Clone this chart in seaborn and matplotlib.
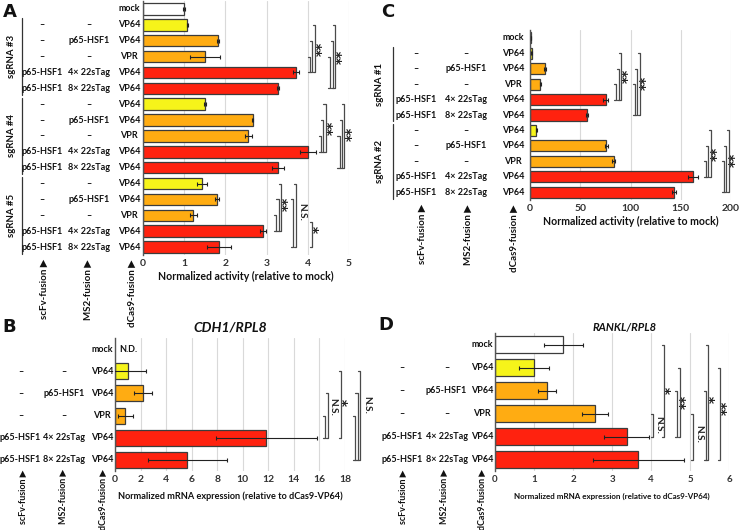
import numpy as np
import pandas as pd
import matplotlib
matplotlib.use('Agg')
import matplotlib.pyplot as plt
import seaborn as sns
from matplotlib.transforms import blended_transform_factory, ScaledTranslation
from matplotlib.lines import Line2D

# ---------------- data ----------------
row_scfv = ['–', '–', '–', 'p65-HSF1', 'p65-HSF1']
row_ms2 = ['–', 'p65-HSF1', '–', '4× 22sTag', '8× 22sTag']
row_dcas9 = ['VP64', 'VP64', 'VPR', 'VP64', 'VP64']
row_kind = ['VP64', 'mid', 'mid', 'Tag', 'Tag']

# Panel A (normalized activity, relative to mock)
a_groups = ['sgRNA #3', 'sgRNA #4', 'sgRNA #5']
a_mock = 1.00
a_mock_err = 0.03
a_vals_3 = [1.08, 1.82, 1.51, 3.72, 3.27]
a_errs_3 = [0.02, 0.03, 0.36, 0.07, 0.02]
a_vals_4 = [1.50, 2.66, 2.56, 4.00, 3.28]
a_errs_4 = [0.03, 0.02, 0.08, 0.19, 0.14]
a_vals_5 = [1.43, 1.79, 1.22, 2.92, 1.84]
a_errs_5 = [0.12, 0.05, 0.08, 0.07, 0.29]
a_ticks = [0, 1, 2, 3, 4, 5]

# Panel C
c_groups = ['sgRNA #1', 'sgRNA #2']
c_mock = 1.0
c_mock_err = 0.3
c_vals_1 = [1.5, 14.6, 10.3, 75.5, 56.6]
c_errs_1 = [0.3, 1.0, 0.5, 2.5, 1.0]
c_vals_2 = [6.3, 76.0, 83.4, 162.6, 143.4]
c_errs_2 = [0.5, 1.5, 1.5, 5.0, 2.0]
c_ticks = [0, 50, 100, 150, 200]

# Panel B (CDH1/RPL8)
b_mock = np.nan   # N.D.
b_mock_err = np.nan
b_vals = [1.04, 2.19, 0.80, 11.84, 5.65]
b_errs = [1.40, 0.68, 0.60, 3.97, 3.10]
b_ticks = [0, 2, 4, 6, 8, 10, 12, 14, 16, 18]

# Panel D (RANKL/RPL8)
d_mock = 1.75
d_mock_err = 0.50
d_vals = [1.00, 1.33, 2.57, 3.38, 3.67]
d_errs = [0.39, 0.24, 0.33, 0.58, 1.17]
d_ticks = [0, 1, 2, 3, 4, 5, 6]

PAL = {'mock': '#FFFFFF', 'VP64': '#F6F41A', 'mid': '#FFAC12', 'Tag': '#FF220F'}

# ---------------- setup ----------------
sns.set_theme(style='white')
plt.rcParams['font.family'] = ['Lato', 'DejaVu Sans']
LFS = 6.5

W, H = 741, 530
fig = plt.figure(figsize=(7.41, 5.30), dpi=100)


def add_ax(left, top, right, bottom):
    return fig.add_axes([left / W, 1 - bottom / H, (right - left) / W, (bottom - top) / H])


def build_df(mock, mock_err, vals_list, errs_list):
    recs = [dict(scfv='', ms2='', dcas9='mock', kind='mock', val=mock, err=mock_err)]
    for vals, errs in zip(vals_list, errs_list):
        for i in range(5):
            recs.append(dict(scfv=row_scfv[i], ms2=row_ms2[i], dcas9=row_dcas9[i],
                             kind=row_kind[i], val=vals[i], err=errs[i]))
    df = pd.DataFrame(recs)
    df['rid'] = ['r%d' % i for i in range(len(df))]
    return df


def draw(ax, df, xlim, ticks, tick_fs=7.5):
    n = len(df)
    sns.barplot(data=df.dropna(subset=['val']), x='val', y='rid', hue='kind', palette=PAL,
                order=list(df['rid']), dodge=False, legend=False, errorbar=None, saturation=1,
                edgecolor='#3c3c3c', linewidth=0.9, width=0.72, orient='h', ax=ax)
    ax.errorbar(df['val'], np.arange(n), xerr=df['err'], fmt='none', ecolor='#222222',
                elinewidth=0.8, capsize=1.6, capthick=0.8, zorder=5)
    ax.set_xlim(*xlim)
    ax.set_ylim(n - 0.5, -0.5)
    ax.set_yticks([])
    ax.set_ylabel('')
    ax.set_xticks(ticks)
    ax.set_xticklabels([str(t) for t in ticks], fontsize=tick_fs, fontweight='bold', color='#333333')
    ax.tick_params(axis='x', length=0, pad=3)
    ax.xaxis.grid(True, color='#d9d9d9', lw=0.8)
    ax.set_axisbelow(True)
    for s in ['top', 'right', 'bottom']:
        ax.spines[s].set_visible(False)
    ax.spines['left'].set_color('#555555')
    ax.spines['left'].set_linewidth(1.0)
    ax.set_facecolor('none')


def row_labels(ax, df, xs, fs=LFS):
    tr = blended_transform_factory(fig.transFigure, ax.transData)
    for i, r in df.reset_index(drop=True).iterrows():
        for col, x in zip(['scfv', 'ms2', 'dcas9'], xs):
            if r[col]:
                fig.text(x / W, i, r[col], transform=tr, ha='center', va='center',
                         fontsize=fs, fontweight='bold', color='#111111')


def group_labels(ax, groups, x_text, x_line, fs=6.9):
    tr = blended_transform_factory(fig.transFigure, ax.transData)
    for g, name in enumerate(groups):
        r0 = 1 + 5 * g
        r1 = r0 + 4
        fig.text(x_text / W, (r0 + r1) / 2, name, transform=tr, rotation=90,
                 ha='center', va='center', fontsize=fs, fontweight='bold', color='#111111')
        fig.add_artist(Line2D([x_line / W, x_line / W], [r0 - 0.42, r1 + 0.42], transform=tr,
                              color='#333333', lw=0.9))


def bottom_labels(xs, ytop, fs):
    for x, t in zip(xs, ['scFv-fusion', 'MS2-fusion', 'dCas9-fusion']):
        fig.text(x / W, 1 - ytop / H, t + ' ▶', rotation=90, rotation_mode='anchor',
                 ha='right', va='center', fontsize=fs, fontweight='bold', color='#111111')


def bracket(ax, r0, r1, x, dx, color='#4a4a4a'):
    ax.plot([x - dx, x, x, x - dx], [r0, r0, r1, r1], color=color, lw=0.9, clip_on=False, zorder=6)


def star(ax, x, y, s, fs=10):
    tr = ax.transData + ScaledTranslation(2.2 / 72, 0, fig.dpi_scale_trans)
    ax.text(x, y, s, rotation=90, ha='center', va='center', fontsize=fs, transform=tr,
            fontweight='bold', color='#222222', clip_on=False, family=['DejaVu Sans'])


def ns(ax, x, y, fs=7.2):
    ax.text(x, y, 'N.S.', rotation=-90, ha='center', va='center', fontsize=fs,
            fontweight='bold', color='#222222', clip_on=False)


BFS_TOP = 7.0
BFS_BOT = 6.4

# ---------------- Panel A ----------------
dfA = build_df(a_mock, a_mock_err, [a_vals_3, a_vals_4, a_vals_5], [a_errs_3, a_errs_4, a_errs_5])
axA = add_ax(143, 1, 349, 255)
draw(axA, dfA, (0, 5), a_ticks)
axA.set_xlabel('Normalized activity (relative to mock)', fontsize=7.6, fontweight='bold',
               color='#111111', labelpad=2)
row_labels(axA, dfA, (42, 89, 129))
group_labels(axA, a_groups, 12, 22)
bottom_labels((44, 88, 132), 259, BFS_TOP)
dx = 0.05
for r0, x in [(3, 4.05), (2, 4.11), (1, 4.17)]:
    bracket(axA, r0, 4, x, dx)
star(axA, 4.27, 2.5, '**')
for r0, x in [(3, 4.55), (2, 4.61), (1, 4.67)]:
    bracket(axA, r0, 5, x, dx)
star(axA, 4.76, 3.0, '**')
for r0, x in [(8, 4.31), (7, 4.37), (6, 4.43)]:
    bracket(axA, r0, 9, x, dx)
star(axA, 4.53, 7.5, '**')
for r0, x in [(8, 4.77), (7, 4.83), (6, 4.89)]:
    bracket(axA, r0, 10, x, dx)
star(axA, 4.99, 7.9, '**')
for r0, x in [(13, 3.23), (12, 3.29), (11, 3.35)]:
    bracket(axA, r0, 14, x, dx)
star(axA, 3.44, 12.3, '**')
for r0, x in [(12, 3.65), (11, 3.71)]:
    bracket(axA, r0, 15, x, dx)
ns(axA, 3.86, 12.8)
bracket(axA, 13.4, 15, 4.11, dx)
star(axA, 4.2, 13.9, '*')

# ---------------- Panel C ----------------
dfC = build_df(c_mock, c_mock_err, [c_vals_1, c_vals_2], [c_errs_1, c_errs_2])
axC = add_ax(530, 30, 731, 200)
draw(axC, dfC, (0, 200), c_ticks)
axC.set_xlabel('Normalized activity (relative to mock)', fontsize=7.6, fontweight='bold',
               color='#111111', labelpad=2)
row_labels(axC, dfC, (416, 466, 513))
group_labels(axC, c_groups, 380, 393)
bottom_labels((422, 468, 514), 204, BFS_TOP)
dx = 2.0
for r0, x in [(3, 86), (2, 88.5), (1, 91)]:
    bracket(axC, r0, 4, x, dx)
star(axC, 94, 2.5, '**')
for r0, x in [(3, 104), (2, 106.5), (1, 109)]:
    bracket(axC, r0, 5, x, dx)
star(axC, 112, 2.95, '**')
for r0, x in [(8, 175), (7, 177.5), (6, 180)]:
    bracket(axC, r0, 9, x, dx)
star(axC, 183, 7.5, '**')
for r0, x in [(8, 193), (7, 195.5), (6, 198)]:
    bracket(axC, r0, 10, x, dx)
star(axC, 200.5, 7.9, '**')

# ---------------- Panel B ----------------
dfB = build_df(b_mock, b_mock_err, [b_vals], [b_errs])
axB = add_ax(115, 338, 345, 471)
draw(axB, dfB, (0, 18), b_ticks)
axB.set_xlabel('Normalized mRNA expression (relative to dCas9-VP64)', fontsize=6.6, fontweight='bold',
               color='#111111', labelpad=5)
row_labels(axB, dfB, (20.5, 64, 102))
bottom_labels((23, 63, 103), 469, BFS_BOT)
axB.text(0.35, 0, 'N.D.', ha='left', va='center', fontsize=LFS, fontweight='bold', color='#111111')
dx = 0.2
bracket(axB, 3, 4, 16.45, dx)
bracket(axB, 2, 4, 16.7, dx)
ns(axB, 17.05, 2.6)
bracket(axB, 1, 4, 17.7, dx)
star(axB, 17.95, 2.4, '*')
for r0, x in [(3, 18.8), (2, 19.0), (1, 19.2)]:
    bracket(axB, r0, 5, x, dx)
ns(axB, 19.7, 2.5)
fig.text(230 / W, 1 - 327 / H, 'CDH1/RPL8', ha='center', va='center', fontsize=10,
         fontweight='bold', fontstyle='italic', color='#111111')

# ---------------- Panel D ----------------
dfD = build_df(d_mock, d_mock_err, [d_vals], [d_errs])
axD = add_ax(495, 333, 729, 471)
draw(axD, dfD, (0, 6), d_ticks, tick_fs=7)
axD.set_xlabel('Normalized mRNA expression (relative to dCas9-VP64)', fontsize=5.8, fontweight='bold',
               color='#111111', labelpad=6)
row_labels(axD, dfD, (402, 446.5, 482))
bottom_labels((403, 444, 482), 469, BFS_BOT)
dx = 0.05
bracket(axD, 3, 4, 4.06, dx)
ns(axD, 4.2, 3.5)
bracket(axD, 0, 4, 4.33, dx)
star(axD, 4.42, 2.0, '*')
bracket(axD, 2, 4, 4.67, dx)
bracket(axD, 1, 4, 4.74, dx)
star(axD, 4.82, 2.5, '**')
bracket(axD, 3, 5, 5.07, dx)
ns(axD, 5.22, 3.9)
bracket(axD, 2, 5, 5.41, dx)
bracket(axD, 0, 5, 5.47, dx)
star(axD, 5.55, 2.4, '*')
bracket(axD, 1, 5, 5.77, dx)
star(axD, 5.86, 2.75, '**')
fig.text(625 / W, 1 - 327 / H, 'RANKL/RPL8', ha='center', va='center', fontsize=8,
         fontweight='bold', fontstyle='italic', color='#111111')

# ---------------- panel letters ----------------
for x, y, t in [(10, 12, 'A'), (388, 12, 'C'), (9, 327, 'B'), (386, 325, 'D')]:
    fig.text(x / W, 1 - y / H, t, ha='center', va='center', fontsize=13, fontweight='bold',
             family=['DejaVu Sans'], color='#111111')

fig.savefig('out.png', dpi=100, facecolor='white')
